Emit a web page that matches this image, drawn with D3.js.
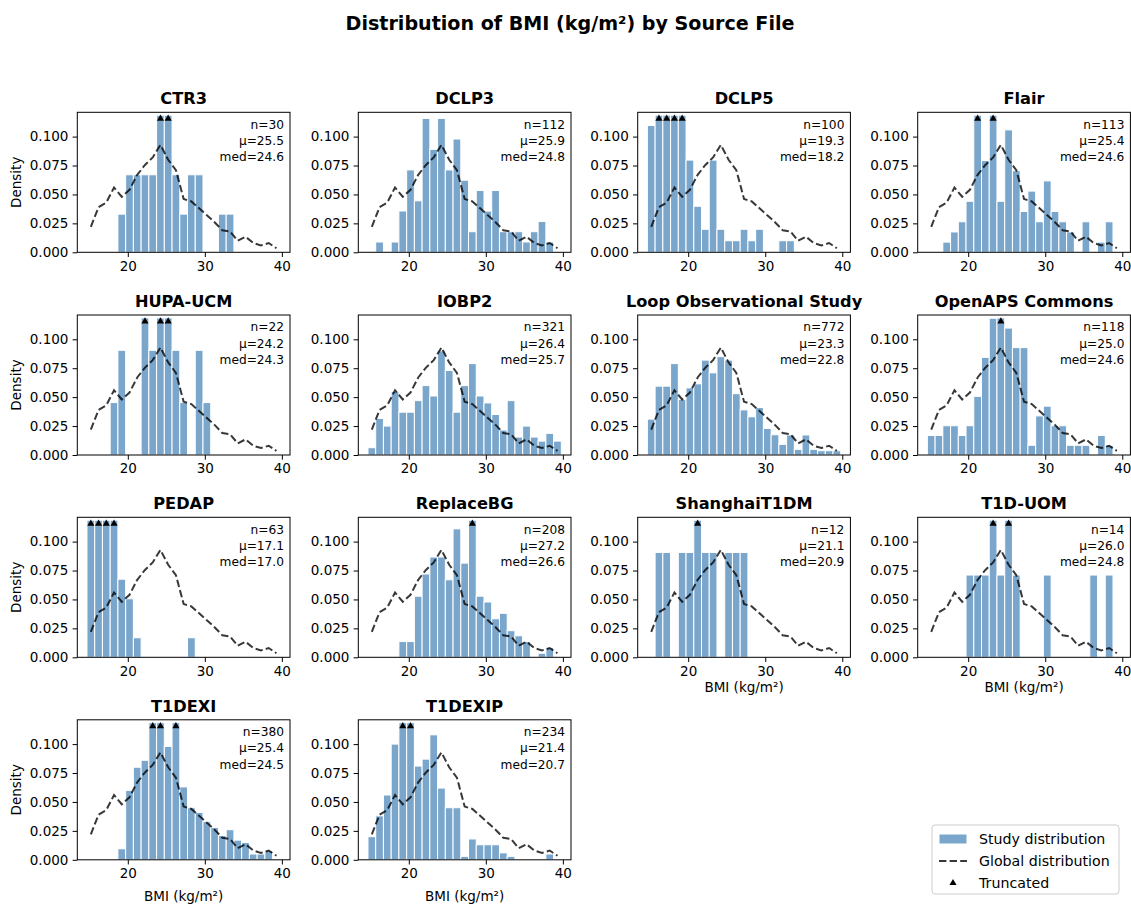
<!DOCTYPE html>
<html>
<head>
<meta charset="utf-8">
<script src="https://cdn.jsdelivr.net/npm/d3@7/dist/d3.min.js"></script>
<style>
  body { margin: 0; background: #fff; }
  svg { display: block; font-family: "DejaVu Sans", sans-serif; }
</style>
</head>
<body>
<svg id="chart" width="1131" height="905"></svg>
<script>
// ---------------- DATA ----------------
const studies = ["CTR3", "DCLP3", "DCLP5", "Flair", "HUPA-UCM", "IOBP2", "Loop Observational Study",
  "OpenAPS Commons", "PEDAP", "ReplaceBG", "ShanghaiT1DM", "T1D-UOM", "T1DEXI", "T1DEXIP"];
const nValues = [30, 112, 100, 113, 22, 321, 772, 118, 63, 208, 12, 14, 380, 234];
const meanValues = ["25.5", "25.9", "19.3", "25.4", "24.2", "26.4", "23.3", "25.0", "17.1", "27.2", "21.1", "26.0", "25.4", "21.4"];
const medianValues = ["24.6", "24.8", "18.2", "24.6", "24.3", "25.7", "22.8", "24.6", "17.0", "26.6", "20.9", "24.8", "24.5", "20.7"];

// histogram bins (BMI, kg/m²)
const binStart = 14.7;
const binWidth = 1.004;
const binCount = 25;

// global density at bin centres (dashed line)
const globalDensity = [0.022, 0.039, 0.043, 0.056, 0.048, 0.054, 0.067, 0.0755, 0.082, 0.0928, 0.080, 0.071,
  0.046, 0.044, 0.038, 0.032, 0.026, 0.019, 0.018, 0.010, 0.0135, 0.008, 0.006, 0.008, 0.0035];

// per-study density per bin
const ctr3 = [0, 0, 0, 0, 0.033, 0.067, 0.067, 0.067, 0.067, 0.199, 0.199, 0.067, 0.033, 0.067, 0.067, 0, 0, 0.033, 0.033, 0, 0, 0, 0, 0, 0];
const dclp3 = [0, 0.0089, 0, 0.0089, 0.0357, 0.0712, 0.0445, 0.1157, 0.089, 0.1157, 0.0712, 0.0979, 0.0623, 0.0178, 0.0534, 0.0356, 0.0534, 0.0178, 0.0178, 0.0178, 0.0089, 0.0178, 0.0267, 0.0089, 0];
const dclp5 = [0.1096, 0.139, 0.139, 0.139, 0.139, 0.0797, 0.0398, 0.0199, 0.0797, 0.0199, 0.01, 0.01, 0.0199, 0.01, 0.0199, 0, 0, 0.01, 0.01, 0, 0, 0, 0, 0, 0];
const flair = [0, 0, 0.0088, 0.0176, 0.0264, 0.0441, 0.141, 0.0793, 0.141, 0.0441, 0.1058, 0.0705, 0.0353, 0.0529, 0.0264, 0.0617, 0.0353, 0.0264, 0.0176, 0, 0.0264, 0, 0.0088, 0.0264, 0];
const hupaUcm = [0, 0, 0, 0.0453, 0.0905, 0, 0, 0.136, 0.0905, 0.181, 0.181, 0.0905, 0.0453, 0, 0.0905, 0.0453, 0, 0, 0, 0, 0, 0, 0, 0, 0];
const iobp2 = [0.0063, 0.0316, 0.025, 0.055, 0.037, 0.037, 0.047, 0.060, 0.051, 0.090, 0.073, 0.037, 0.060, 0.079, 0.051, 0.045, 0.035, 0.0216, 0.047, 0.0155, 0.025, 0.0155, 0.012, 0.0187, 0.012];
const loop = [0.031, 0.0595, 0.0595, 0.079, 0.048, 0.058, 0.0615, 0.082, 0.071, 0.085, 0.082, 0.053, 0.039, 0.033, 0.041, 0.023, 0.0175, 0.0092, 0.0173, 0.0049, 0.0173, 0.0049, 0.0037, 0.0037, 0.0037];
const openaps = [0.0169, 0.0169, 0.0253, 0.0253, 0.0169, 0.0253, 0.0507, 0.0844, 0.1182, 0.135, 0.1097, 0.0928, 0.0928, 0.0084, 0.0338, 0.0422, 0.0253, 0.0253, 0.0084, 0.0084, 0.0084, 0, 0.0169, 0.0084, 0];
const pedap = [0.21, 0.21, 0.21, 0.21, 0.0675, 0.0506, 0.0169, 0, 0, 0, 0, 0, 0, 0.0169, 0, 0, 0, 0, 0, 0, 0, 0, 0, 0, 0];
const replaceBg = [0, 0, 0, 0, 0.0136, 0.0136, 0.0528, 0.072, 0.0867, 0.0867, 0.067, 0.111, 0.0814, 0.13, 0.0528, 0.0478, 0.0333, 0.038, 0.023, 0.0186, 0.0136, 0, 0.0035, 0.0084, 0];
const shanghai = [0, 0.0906, 0.0906, 0, 0.0906, 0.0906, 0.181, 0.0906, 0.0906, 0, 0.0906, 0.0906, 0.0906, 0, 0, 0, 0, 0, 0, 0, 0, 0, 0, 0, 0];
const t1dUom = [0, 0, 0, 0, 0, 0.0711, 0.0711, 0.0711, 0.213, 0.0711, 0.213, 0.0711, 0, 0, 0, 0.0711, 0, 0, 0, 0, 0, 0.0711, 0, 0.0711, 0];
const t1dexi = [0, 0, 0, 0, 0.0095, 0.060, 0.080, 0.086, 0.13, 0.13, 0.098, 0.13, 0.063, 0.045, 0.041, 0.033, 0.028, 0.021, 0.026, 0.017, 0.015, 0.005, 0.005, 0.008, 0];
const t1dexip = [0.020, 0.038, 0.056, 0.100, 0.13, 0.13, 0.081, 0.087, 0.108, 0.062, 0.045, 0.045, 0.003, 0.018, 0.013, 0.013, 0.013, 0.006, 0.003, 0, 0, 0, 0, 0.005, 0];
const studyDensities = [ctr3, dclp3, dclp5, flair, hupaUcm, iobp2, loop, openaps, pedap, replaceBg, shanghai, t1dUom, t1dexi, t1dexip];

const yTicks = [0, 0.025, 0.05, 0.075, 0.1];
const xTicks = [20, 30, 40];
const densityCap = 0.1185;
const yTop = 0.121;
const xDomain = [13.445, 41.055];

// ---------------- LAYOUT ----------------
const svg = d3.select("#chart");
const barColor = "#7ba6cc";
const panelW = 212.7, panelH = 140;
const colX = [77.3, 358.3, 637.7, 917.7];
const rowY = [112.3, 315, 517.3, 719.8];
const xLabelOffset = [35, 35, 35, 41];
const tickFont = 13.5;

svg.append("text")
  .attr("x", 570).attr("y", 30)
  .attr("text-anchor", "middle")
  .attr("font-size", 19.1).attr("font-weight", "bold")
  .attr("fill", "#000")
  .text("Distribution of BMI (kg/m²) by Source File");

const binEdges = d3.range(binCount + 1).map(i => binStart + i * binWidth);

studies.forEach((name, k) => {
  const r = Math.floor(k / 4), c = k % 4;
  const g = svg.append("g").attr("transform", `translate(${colX[c]},${rowY[r]})`);
  const x = d3.scaleLinear().domain(xDomain).range([0, panelW]);
  const y = d3.scaleLinear().domain([0, yTop]).range([panelH, 0]);
  const dens = studyDensities[k];
  const bins = dens.map((v, i) => ({ x0: binEdges[i], x1: binEdges[i + 1], v }));

  g.selectAll("rect.bar").data(bins.filter(b => b.v > 0)).join("rect")
    .attr("class", "bar")
    .attr("x", b => x(b.x0))
    .attr("width", b => x(b.x1) - x(b.x0))
    .attr("y", b => y(Math.min(b.v, densityCap)))
    .attr("height", b => y(0) - y(Math.min(b.v, densityCap)))
    .attr("fill", barColor)
    .attr("stroke", "#fff").attr("stroke-width", 1);

  const line = d3.line()
    .x((d, i) => x((binEdges[i] + binEdges[i + 1]) / 2))
    .y(d => y(d));
  g.append("path").datum(globalDensity)
    .attr("d", line)
    .attr("fill", "none")
    .attr("stroke", "#000").attr("stroke-opacity", 0.78)
    .attr("stroke-width", 2)
    .attr("stroke-dasharray", "7.4,3.2");

  const tri = d3.symbol().type(d3.symbolTriangle).size(22);
  g.selectAll("path.tri").data(bins.filter(b => b.v > densityCap)).join("path")
    .attr("class", "tri")
    .attr("d", tri)
    .attr("transform", b => `translate(${x((b.x0 + b.x1) / 2)},${y(0.1155)})`)
    .attr("fill", "#000");

  // axes
  const xa = g.append("g").attr("transform", `translate(0,${panelH})`)
    .call(d3.axisBottom(x).tickValues(xTicks).tickSize(4.7).tickPadding(4.2).tickFormat(d3.format("d")));
  const ya = g.append("g")
    .call(d3.axisLeft(y).tickValues(yTicks).tickSize(4.7).tickPadding(4.2).tickFormat(d3.format(".3f")));
  [xa, ya].forEach(a => {
    a.select(".domain").remove();
    a.selectAll("line").attr("stroke", "#000").attr("stroke-width", 1);
    a.selectAll("text").attr("font-size", tickFont).attr("fill", "#000").attr("font-family", "DejaVu Sans");
  });
  g.append("rect").attr("x", 0).attr("y", 0).attr("width", panelW).attr("height", panelH)
    .attr("fill", "none").attr("stroke", "#000").attr("stroke-width", 1);

  g.append("text").attr("x", panelW / 2).attr("y", -8)
    .attr("text-anchor", "middle").attr("font-size", 16.2).attr("font-weight", "bold")
    .attr("fill", "#000").text(name);

  const stats = [`n=${nValues[k]}`, `μ=${meanValues[k]}`, `med=${medianValues[k]}`];
  g.selectAll("text.stat").data(stats).join("text")
    .attr("class", "stat")
    .attr("x", panelW - 6).attr("y", (d, i) => 16.3 + i * 16.3)
    .attr("text-anchor", "end").attr("font-size", 12.2).attr("fill", "#000")
    .text(d => d);

  if (c === 0) {
    g.append("text")
      .attr("transform", `translate(${-56},${panelH / 2}) rotate(-90)`)
      .attr("text-anchor", "middle").attr("font-size", tickFont).attr("fill", "#000")
      .text("Density");
  }
  const hasBelow = k + 4 < studies.length;
  if (!hasBelow) {
    g.append("text").attr("x", panelW / 2).attr("y", panelH + xLabelOffset[r])
      .attr("text-anchor", "middle").attr("font-size", tickFont).attr("fill", "#000")
      .text("BMI (kg/m²)");
  }
});

// legend
const lg = svg.append("g").attr("transform", "translate(932,825)");
lg.append("rect").attr("width", 187).attr("height", 69).attr("rx", 3)
  .attr("fill", "#fff").attr("stroke", "#ccc").attr("stroke-width", 1);
const legendItems = ["Study distribution", "Global distribution", "Truncated"];
legendItems.forEach((t, i) => {
  const yy = 14 + i * 22;
  if (i === 0) {
    lg.append("rect").attr("x", 7).attr("y", yy - 5).attr("width", 28).attr("height", 10)
      .attr("fill", barColor).attr("stroke", "#fff").attr("stroke-width", 1);
  } else if (i === 1) {
    lg.append("line").attr("x1", 7).attr("x2", 35).attr("y1", yy).attr("y2", yy)
      .attr("stroke", "#000").attr("stroke-opacity", 0.78).attr("stroke-width", 2)
      .attr("stroke-dasharray", "7.4,3.2");
  } else {
    lg.append("path").attr("d", d3.symbol().type(d3.symbolTriangle).size(22))
      .attr("transform", `translate(21,${yy})`).attr("fill", "#000");
  }
  lg.append("text").attr("x", 47).attr("y", yy + 5).attr("font-size", 14.2).attr("fill", "#000").text(t);
});
</script>
</body>
</html>
